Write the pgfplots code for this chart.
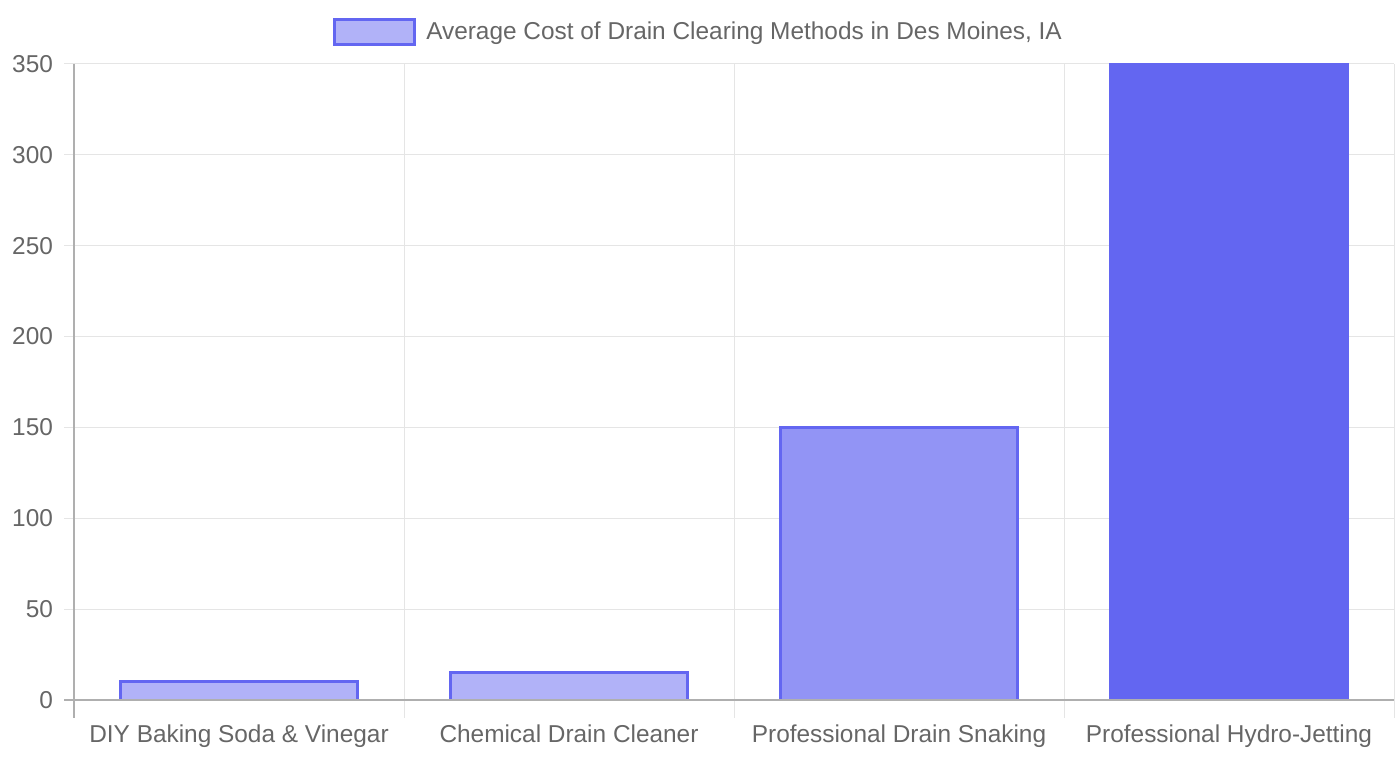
\documentclass[border=0pt]{standalone}
\usepackage{pgfplots}
\pgfplotsset{compat=1.18}
\usepackage{fontspec}
\setmainfont{Liberation Sans}
\definecolor{txt}{RGB}{102,102,102}
\definecolor{gridc}{RGB}{229,229,229}
\definecolor{axisc}{RGB}{175,175,175}
\definecolor{indigo}{RGB}{99,102,241}
\definecolor{fillA}{RGB}{177,178,248}
\definecolor{fillB}{RGB}{146,148,245}
\begin{document}
\begin{tikzpicture}
\useasboundingbox (0,0) rectangle (700pt,380pt);
\begin{axis}[
  at={(37pt,30pt)}, anchor=south west,
  scale only axis, width=660pt, height=318pt,
  xmin=-0.5, xmax=3.5, ymin=0, ymax=350,
  clip mode=individual,
  axis line style={draw=none},
  xtick={0,1,2,3},
  xticklabels={DIY Baking Soda \& Vinegar, Chemical Drain Cleaner, Professional Drain Snaking, Professional Hydro-Jetting},
  minor xtick={-0.5,0.5,1.5,2.5,3.5},
  xminorgrids,
  ytick={0,50,...,350},
  ymajorgrids,
  xtick pos=bottom, ytick pos=left,
  tick align=outside,
  major tick length=5pt, minor tick length=9pt,
  major x tick style={draw=none},
  tick style={gridc, line width=0.5pt},
  grid style={gridc, line width=0.5pt},
  minor grid style={gridc, line width=0.5pt},
  ticklabel style={font=\fontsize{12.2}{14}\selectfont, text=txt},
  /pgf/number format/assume math mode=true,
  yticklabel style={xshift=-2pt},
  xticklabel style={yshift=-4pt},
  legend style={at={(0.4739,1.0503)}, anchor=center, draw=none, fill=none,
    font=\fontsize{12.2}{14}\selectfont, text=txt, inner sep=0pt},
  ybar, bar width=0.72, bar shift=0pt,
  legend image code/.code={\draw[#1, line width=1.5pt] (0pt,-6.25pt) rectangle (40pt,6.25pt);},
]
\addplot[fill=fillA, draw=indigo, line width=1.5pt] coordinates {(0,10)};
\addlegendentry{\hspace{3pt}Average Cost of Drain Clearing Methods in Des Moines, IA}
\addplot[fill=fillA, draw=indigo, line width=1.5pt, forget plot] coordinates {(1,15)};
\addplot[fill=fillB, draw=indigo, line width=1.5pt, forget plot] coordinates {(2,150)};
\addplot[fill=indigo, draw=indigo, line width=1.5pt, forget plot] coordinates {(3,400)};
\draw[axisc, line width=0.75pt] (axis cs:-0.5,350) -- ([yshift=-9pt]axis cs:-0.5,0);
\draw[axisc, line width=0.75pt] ([xshift=-5pt]axis cs:-0.5,0) -- (axis cs:3.5,0);
\end{axis}
\end{tikzpicture}
\end{document}
